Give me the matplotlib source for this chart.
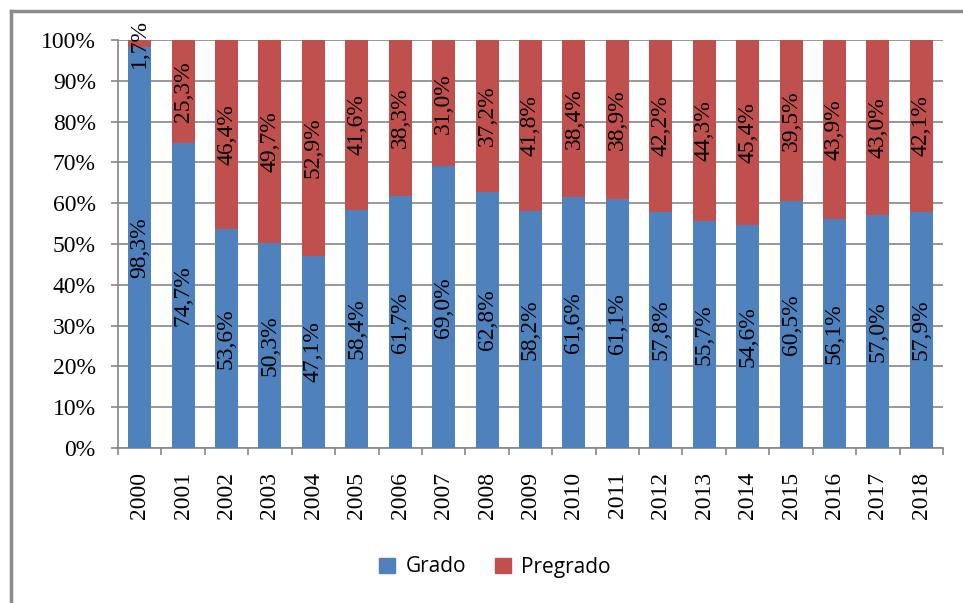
import matplotlib
matplotlib.use("Agg")
from matplotlib import pyplot as plt
from matplotlib.lines import Line2D
from matplotlib.patches import Patch

# Data
years = ['2000', '2001', '2002', '2003', '2004', '2005', '2006', '2007', '2008', '2009',
         '2010', '2011', '2012', '2013', '2014', '2015', '2016', '2017', '2018']
grado = [98.3, 74.7, 53.6, 50.3, 47.1, 58.4, 61.7, 69.0, 62.8, 58.2,
         61.6, 61.1, 57.8, 55.7, 54.6, 60.5, 56.1, 57.0, 57.9]
pregrado = [1.7, 25.3, 46.4, 49.7, 52.9, 41.6, 38.3, 31.0, 37.2, 41.8,
            38.4, 38.9, 42.2, 44.3, 45.4, 39.5, 43.9, 43.0, 42.1]

blue = '#4F81BD'
red = '#C0504D'
serif = ['Liberation Serif', 'DejaVu Serif']

fig = plt.figure(figsize=(9.63, 6.03), dpi=100)
W, H = 963, 603
ax = fig.add_axes([118 / W, 1 - 448 / H, (943 - 118) / W, (448 - 40) / H])

x = list(range(len(years)))
ax.bar(x, grado, width=0.53, color=blue, zorder=3)
ax.bar(x, pregrado, width=0.53, bottom=grado, color=red, zorder=3)

def fmt(v):
    return ('%.1f%%' % v).replace('.', ',')

for i in x:
    ax.text(i, grado[i] / 2, fmt(grado[i]), rotation=90, ha='center', va='center',
            fontsize=17, family=serif, zorder=4)
    ax.text(i, grado[i] + pregrado[i] / 2, fmt(pregrado[i]), rotation=90,
            ha='center', va='center', fontsize=17, family=serif, zorder=4, clip_on=False)

ax.set_xlim(-0.5, len(years) - 0.5)
ax.set_ylim(0, 100)
ax.set_yticks(range(0, 101, 10))
ax.set_yticklabels(['%d%%' % v for v in range(0, 101, 10)], family=serif, fontsize=17)
ax.set_xticks(x)
ax.set_xticklabels(years, rotation=90, family=serif, fontsize=17)
ax.set_xticks([i - 0.5 for i in range(len(years) + 1)], minor=True)
ax.tick_params(axis='x', which='major', length=0, pad=17)
ax.tick_params(axis='x', which='minor', length=5, color='#868686', width=1.2)
ax.tick_params(axis='y', length=5, color='#868686', width=1.2, pad=11)
ax.grid(axis='y', color='#868686', linewidth=1.2, zorder=0)
for s in ['top', 'right']:
    ax.spines[s].set_visible(False)
for s in ['left', 'bottom']:
    ax.spines[s].set_color('#868686')
    ax.spines[s].set_linewidth(1.2)

# outer chart frame (only left and top edges are visible)
fig.add_artist(Line2D([11 / W, 11 / W], [0, 1 - 11 / H], color='#8c8c8c', lw=2.5))
fig.add_artist(Line2D([11 / W, 1], [1 - 11 / H, 1 - 11 / H], color='#8c8c8c', lw=2.5))

handles = [Patch(color=blue, label='Grado'), Patch(color=red, label='Pregrado')]
fig.legend(handles=handles, loc='center', bbox_to_anchor=(495 / W, 1 - 567 / H), ncol=2,
           frameon=False, prop={'family': ['Open Sans', 'DejaVu Sans'], 'size': 15},
           handlelength=0.75, handleheight=0.75, columnspacing=1.4, handletextpad=0.5)

fig.savefig('out.png', dpi=100)
